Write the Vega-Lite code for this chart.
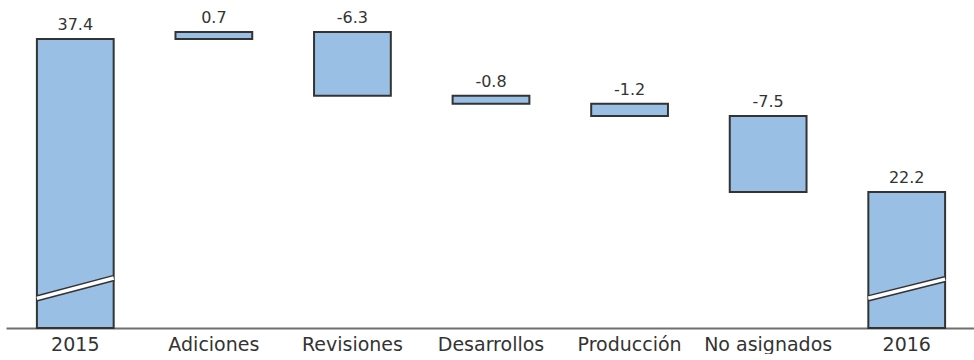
{
  "$schema": "https://vega.github.io/schema/vega-lite/v6.json",
  "width": 970,
  "height": 328,
  "padding": {"top": 0, "left": 6, "right": 0, "bottom": 0},
  "background": "white",
  "config": {"view": {"stroke": null}},
  "datasets": {
    "bars": [
      {"cat": "2015", "lo": 0, "hi": 37.4, "label": "37.4"},
      {"cat": "Adiciones", "lo": 37.4, "hi": 38.1, "label": "0.7"},
      {"cat": "Revisiones", "lo": 31.8, "hi": 38.1, "label": "-6.3"},
      {"cat": "Desarrollos", "lo": 31.0, "hi": 31.8, "label": "-0.8"},
      {"cat": "Producción", "lo": 29.8, "hi": 31.0, "label": "-1.2"},
      {"cat": "No asignados", "lo": 22.3, "hi": 29.8, "label": "-7.5"},
      {"cat": "2016", "lo": 0, "hi": 22.3, "label": "22.2"}
    ],
    "breaks": [
      {"cat": "2015", "vl": 11.8, "vr": 13.8},
      {"cat": "2016", "vl": 11.8, "vr": 13.7}
    ]
  },
  "layer": [
    {
      "data": {"name": "bars"},
      "mark": {"type": "bar", "fill": "#9abfe5", "stroke": "#333333", "strokeWidth": 2},
      "encoding": {
        "x": {"field": "cat", "type": "nominal", "sort": null,
          "scale": {"paddingInner": 0.446, "paddingOuter": 0.223},
          "axis": {"title": null, "labelAngle": 0, "ticks": false, "domainColor": "#6f6f6f", "domainWidth": 2,
            "labelFont": "DejaVu Sans", "labelFontSize": 19, "labelColor": "#333333", "labelPadding": 7}},
        "y": {"field": "lo", "type": "quantitative",
          "scale": {"domain": [8.87, 41.25], "nice": false, "zero": false, "clamp": true},
          "axis": null},
        "y2": {"field": "hi"}
      }
    },
    {
      "data": {"name": "bars"},
      "mark": {"type": "text", "font": "DejaVu Sans", "fontSize": 16, "color": "#333333", "baseline": "alphabetic", "dy": -9},
      "encoding": {
        "x": {"field": "cat", "type": "nominal", "sort": null},
        "y": {"field": "hi", "type": "quantitative"},
        "text": {"field": "label"}
      }
    },
    {
      "data": {"name": "breaks"},
      "mark": {"type": "rule", "stroke": "#333333", "strokeWidth": 6.5, "strokeCap": "butt"},
      "encoding": {
        "x": {"field": "cat", "type": "nominal", "sort": null, "bandPosition": 0},
        "x2": {"field": "cat", "bandPosition": 1},
        "y": {"field": "vl", "type": "quantitative"},
        "y2": {"field": "vr"}
      }
    },
    {
      "data": {"name": "breaks"},
      "mark": {"type": "rule", "stroke": "white", "strokeWidth": 3.5, "strokeCap": "butt"},
      "encoding": {
        "x": {"field": "cat", "type": "nominal", "sort": null, "bandPosition": 0},
        "x2": {"field": "cat", "bandPosition": 1},
        "y": {"field": "vl", "type": "quantitative"},
        "y2": {"field": "vr"}
      }
    }
  ]
}
